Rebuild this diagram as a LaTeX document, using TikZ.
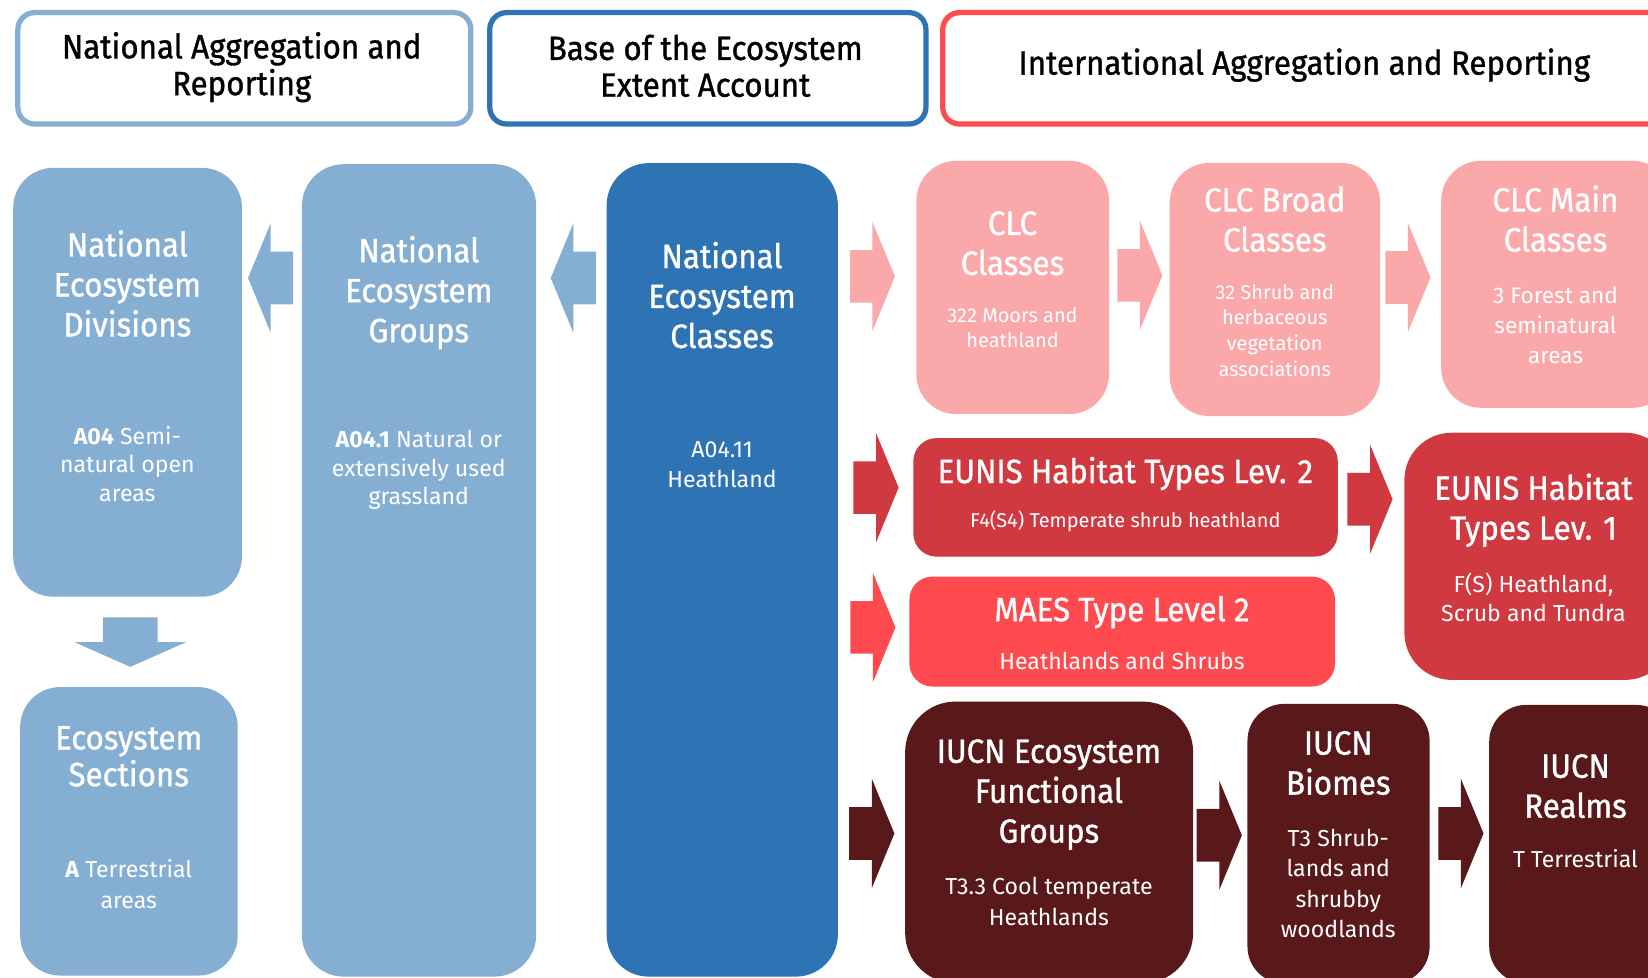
\documentclass[tikz,border=0pt]{standalone}
\usepackage{fontspec}
\setmainfont{Fira Sans}
\newfontfamily\tfont[FakeBold=1,FakeStretch=0.93]{Fira Sans}
\definecolor{lblue}{HTML}{85AED3}
\definecolor{dblue}{HTML}{2E74B5}
\definecolor{pinkc}{HTML}{FBA8AA}
\definecolor{eured}{HTML}{CF393F}
\definecolor{maesred}{HTML}{FF4B50}
\definecolor{maroon}{HTML}{59191A}
\tikzset{
  box/.style={rectangle, rounded corners=#1, inner sep=0pt, draw=none, anchor=north west},
  hdr/.style={rectangle, rounded corners=16pt, inner sep=0pt, line width=5pt, fill=white, anchor=north west},
  htxt/.style={font=\tfont\fontsize{32}{35}\selectfont, text=black, align=center, anchor=base, inner sep=0pt},
  ttl/.style={font=\tfont\fontsize{32}{38}\selectfont, text=white, align=center, anchor=base, inner sep=0pt},
  sub/.style={font=\fontsize{22}{27}\selectfont, text=white, align=center, anchor=base, inner sep=0pt},
  smallsub/.style={font=\fontsize{19}{24.5}\selectfont, text=white, align=center, anchor=base, inner sep=0pt},
  blockarr/.pic={\path[pic actions] (-43,-25) -- (-21.5,-25) -- (-21.5,-52) -- (0,0) -- (-21.5,52) -- (-21.5,25) -- (-43,25) -- cycle;},
  blockarrd/.pic={\path[pic actions] (-47,-26) -- (-23.5,-26) -- (-23.5,-53) -- (0,0) -- (-23.5,53) -- (-23.5,26) -- (-47,26) -- cycle;}
}
\begin{document}
\begin{tikzpicture}[x=1pt,y=-1pt]
\useasboundingbox (0,0) rectangle (1568,930);
\clip (0,0) rectangle (1568,930);

% header boxes
\node[hdr, draw=lblue, minimum width=431pt, minimum height=106pt] (h1) at (14.5,9.5) {};
\node[hdr, draw=dblue, minimum width=415pt, minimum height=106pt] (h2) at (463.5,9.5) {};
\node[hdr, draw=maesred, minimum width=720pt, minimum height=106pt] (h3) at (894.5,9.5) {};
\node[htxt] (h1t) at (230,90.5) {National Aggregation and\\Reporting};
\node[htxt] (h2t) at (671,92) {Base of the Ecosystem\\Extent Account};
\node[htxt] (h3t) at (1241,71) {International Aggregation and Reporting};

% national columns
\node[box=38pt, fill=lblue, minimum width=217.6pt, minimum height=408pt] (div) at (12.4,159.5) {};
\node[box=38pt, fill=lblue, minimum width=207pt, minimum height=274.5pt] (sec) at (19,653.5) {};
\node[box=40pt, fill=lblue, minimum width=223pt, minimum height=773pt] (grp) at (287,156) {};
\node[box=40pt, fill=dblue, minimum width=220pt, minimum height=774pt] (cls) at (577,155) {};

\node[ttl] (divt) at (121.2,320) {National\\Ecosystem\\Divisions};
\node[sub] (divs) at (121.2,477) {\textbf{A04} Semi-\\natural open\\areas};
\node[ttl, font=\tfont\fontsize{32}{35}\selectfont] (sect) at (122.5,748) {Ecosystem\\Sections};
\node[sub, font=\fontsize{22}{29}\selectfont] (secs) at (122.5,864) {\textbf{A} Terrestrial\\areas};
\node[ttl] (grpt) at (398.5,325.5) {National\\Ecosystem\\Groups};
\node[sub] (grps) at (398.5,480) {\textbf{A04.1} Natural or\\extensively used\\grassland};
\node[ttl] (clst) at (687,331) {National\\Ecosystem\\Classes};
\node[sub, font=\fontsize{22}{28.5}\selectfont] (clss) at (687,464) {A04.11\\Heathland};

% arrows national
\pic[rotate=180, fill=lblue] (a1) at (236,264.5) {blockarr};
\pic[rotate=180, fill=lblue] (a2) at (524,264.5) {blockarr};
\pic[rotate=-90, fill=lblue] (a3) at (124,634.5) {blockarrd};

% CLC
\node[box=38pt, fill=pinkc, minimum width=183.3pt, minimum height=241pt] (clc1) at (871.7,152.8) {};
\node[box=38pt, fill=pinkc, minimum width=200.3pt, minimum height=241pt] (clc2) at (1112.7,154.7) {};
\node[box=38pt, fill=pinkc, minimum width=220pt, minimum height=235pt] (clc3) at (1371,152.8) {};
\node[ttl] (clc1t) at (963.4,261.5) {CLC\\Classes};
\node[smallsub] (clc1s) at (963.4,331) {322 Moors and\\heathland};
\node[ttl] (clc2t) at (1212.9,239.3) {CLC Broad\\Classes};
\node[smallsub] (clc2s) at (1212.9,358.2) {32 Shrub and\\herbaceous\\vegetation\\associations};
\node[ttl] (clc3t) at (1480,239.3) {CLC Main\\Classes};
\node[sub, font=\fontsize{21.5}{28.6}\selectfont] (clc3s) at (1480,345.5) {3 Forest and\\seminatural\\areas};
\pic[fill=pinkc] (p1) at (851.5,263) {blockarr};
\pic[fill=pinkc] (p2) at (1106,262) {blockarr};
\pic[fill=pinkc] (p3) at (1361,264) {blockarr};

% EUNIS / MAES
\node[box=22pt, fill=eured, minimum width=403.8pt, minimum height=112.8pt] (eu2) at (868.8,416.6) {};
\node[box=45pt, fill=eured, minimum width=255pt, minimum height=235.2pt] (eu1) at (1336,411.5) {};
\node[box=22pt, fill=maesred, minimum width=405pt, minimum height=104.6pt] (maes) at (865,548.4) {};
\node[ttl] (eu2t) at (1070.7,459.6) {EUNIS Habitat Types Lev. 2};
\node[smallsub] (eu2s) at (1070.7,502) {F4(S4) Temperate shrub heathland};
\node[ttl] (eu1t) at (1459,513.5) {EUNIS Habitat\\Types Lev. 1};
\node[sub] (eu1s) at (1459,591) {F(S) Heathland,\\Scrub and Tundra};
\node[ttl] (maest) at (1067.5,591) {MAES Type Level 2};
\node[sub] (maess) at (1067.5,637) {Heathlands and Shrubs};
\pic[fill=eured] (e1) at (855,464) {blockarr};
\pic[fill=eured] (e2) at (1325,475) {blockarr};
\pic[fill=maesred] (m1) at (852,597) {blockarr};

% IUCN
\node[box=48pt, fill=maroon, minimum width=274pt, minimum height=268pt] (efg) at (861,667.3) {};
\node[box=35pt, fill=maroon, minimum width=173.3pt, minimum height=266pt] (bio) at (1186.7,669.5) {};
\node[box=35pt, fill=maroon, minimum width=175pt, minimum height=265pt] (rlm) at (1416.7,670.5) {};
\node[ttl] (efgt) at (998,801.8) {IUCN Ecosystem\\Functional\\Groups};
\node[sub, font=\fontsize{22}{30}\selectfont] (efgs) at (998,881) {T3.3 Cool temperate\\Heathlands};
\node[ttl] (biot) at (1273.3,756) {IUCN\\Biomes};
\node[sub, font=\fontsize{22}{29}\selectfont] (bios) at (1273.3,892) {T3 Shrub-\\lands and\\shrubby\\woodlands};
\node[ttl] (rlmt) at (1499,778) {IUCN\\Realms};
\node[sub] (rlms) at (1499,825.5) {T Terrestrial};
\pic[fill=maroon] (i1) at (851,793) {blockarr};
\pic[fill=maroon] (i2) at (1181.6,794.7) {blockarr};
\pic[fill=maroon] (i3) at (1411.5,793) {blockarr};
\end{tikzpicture}
\end{document}
